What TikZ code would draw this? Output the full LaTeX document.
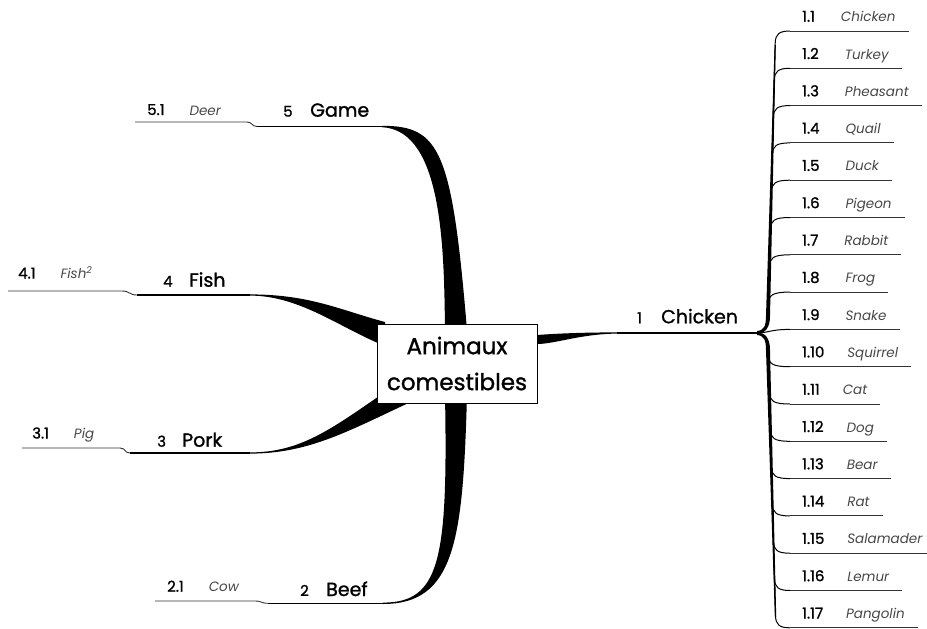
\documentclass[tikz,border=0pt]{standalone}
\usepackage{fontspec}
\setmainfont{Poppins}
\begin{document}
\begin{tikzpicture}[x=1pt,y=-1pt,
  wedge/.style={fill=black,draw=none},
  mainline/.style={line width=1.3pt,black},
  subline/.style={line width=0.9pt,black!80},
  twig/.style={line width=1pt,black},
  mainlbl/.style={inner sep=0pt,anchor=base west,font=\fontsize{19}{22}\selectfont\addfontfeature{FakeBold=1.2}},
  numlbl/.style={inner sep=0pt,anchor=base west,font=\fontsize{15}{17}\selectfont\addfontfeature{FakeBold=1.2}},
  sublbl/.style={inner sep=0pt,anchor=base west,font=\fontsize{15}{16}\selectfont},
  centre/.style={draw=black,line width=1pt,fill=white,minimum width=160pt,minimum height=79pt,
    align=center,inner sep=0pt,font=\fontsize{23}{36}\selectfont\addfontfeature{FakeBold=1.2}}]
\newcommand{\subnum}[1]{{\addfontfeature{FakeBold=1.2}#1}}
\newcommand{\subname}[1]{{\fontsize{13.5}{16}\selectfont\color{black!72}\itshape #1}}
\newcommand{\supx}[1]{\raisebox{5pt}{\fontsize{9.5}{10}\selectfont #1}}
\useasboundingbox (0,0) rectangle (927,629);

% ---------- wedges (drawn before the box, box covers their roots)
% Chicken
\fill[wedge] (520,336) -- (537,335) .. controls (565,333) and (590,332.4) .. (617,332.4)
  -- (617,333.6) .. controls (580,334) and (555,344) .. (537,344) -- (520,345) -- cycle;
% Game
\fill[wedge] (382,125.8) .. controls (440,125.8) and (452,150) .. (467,330)
  -- (445,330) .. controls (444,250) and (443,130) .. (382,127.2) -- cycle;
% Beef
\fill[wedge] (383,602.6) .. controls (440,602.6) and (448,560) .. (445,395)
  -- (467,395) .. controls (463,540) and (455,604) .. (383,604) -- cycle;
% Fish
\fill[wedge] (250,294.4) .. controls (310,294.4) and (340,310) .. (385,322)
  -- (385,346) .. controls (340,328) and (300,295.6) .. (250,295.6) -- cycle;
% Pork
\fill[wedge] (250,452.4) .. controls (300,452.4) and (330,430) .. (385,392)
  -- (415,400) .. controls (350,430) and (310,453.6) .. (250,453.6) -- cycle;

% ---------- centre
\node[centre] (c) at (457,363.5) {Animaux\\comestibles};

% ---------- main branch 1 (Chicken)
\coordinate (j) at (757,333);
\coordinate (b1) at (617,333);
\draw[mainline] (b1) -- (j);
\node[numlbl] (n1) at (637,323.3) {1};
\node[mainlbl] (m1) at (661,323.3) {Chicken};

% ---------- trunk of branch 1
\fill[wedge] (757,331) .. controls (764,330.5) and (766,326) .. (766,316) -- (774.6,45) -- (775.8,45)
  -- (770,316) .. controls (770,328) and (765,333.5) .. (757,333.5) -- cycle;
\fill[wedge] (757,335) .. controls (764,335.5) and (766,340) .. (766,350) -- (774.9,617) -- (776.2,617)
  -- (770,350) .. controls (770,338) and (765,332.5) .. (757,332.5) -- cycle;

% ---------- sub branches of 1 (upper)
\foreach \k/\n/\nm in {1/1.1/Chicken,2/1.2/Turkey,3/1.3/Pheasant,4/1.4/Quail,5/1.5/Duck,
  6/1.6/Pigeon,7/1.7/Rabbit,8/1.8/Frog}{
  \pgfmathsetmacro\yy{31+37.3*(\k-1)}
  \pgfmathsetmacro\ya{\yy+12}
  \pgfmathsetmacro\xt{768+7.15*(316-\ya)/271}
  \node[sublbl] (s\k) at (802,\yy-9.3) {\subnum{\n}\hspace{26pt}\subname{\nm}};
  \coordinate (a\k) at (\xt,\ya);
  \coordinate (c\k) at (790,\yy);
  \path (s\k.base east) ++(13,0) coordinate (t\k);
  \draw[twig] (768,318) -- (a\k) .. controls (\xt+0.3,\yy+3) and (\xt+4,\yy) .. (c\k);
  \draw[subline] (c\k) -- (t\k |- c\k);
}
% 1.9
\node[sublbl] (s9) at (802,320.1) {\subnum{1.9}\hspace{26pt}\subname{Snake}};
\coordinate (c9) at (790,329.4);
\path (s9.base east) ++(13,0) coordinate (t9);
\draw[twig] (j) .. controls (768,333) and (770,329.4) .. (c9);
\draw[subline] (c9) -- (t9 |- c9);
% lower
\foreach \k/\n/\nm in {10/1.10/Squirrel,11/1.11/Cat,12/1.12/Dog,
  13/1.13/Bear,14/1.14/Rat,15/1.15/Salamader,16/1.16/Lemur,17/1.17/Pangolin}{
  \pgfmathsetmacro\yy{31+37.3*(\k-1)}
  \pgfmathsetmacro\ya{\yy-12}
  \pgfmathsetmacro\xt{768+7.5*(\ya-350)/266}
  \node[sublbl] (s\k) at (802,\yy-9.3) {\subnum{\n}\hspace{23pt}\subname{\nm}};
  \coordinate (a\k) at (\xt,\ya);
  \coordinate (c\k) at (790,\yy);
  \path (s\k.base east) ++(13,0) coordinate (t\k);
  \draw[twig] (768,348) -- (a\k) .. controls (\xt+0.3,\yy-3) and (\xt+4,\yy) .. (c\k);
  \draw[subline] (c\k) -- (t\k |- c\k);
}

% ---------- branch 5 (Game)
\coordinate (g0) at (257,126.5);
\coordinate (g1) at (382,126.5);
\coordinate (g2) at (135,122);
\coordinate (g3) at (247,122);
\draw[mainline] (g0) -- (g1);
\draw[subline] (g2) -- (g3) .. controls (252,122) and (252,126.5) .. (g0);
\node[numlbl] (n5) at (283,116.7) {5};
\node[mainlbl] (m5) at (310,116.7) {Game};
\node[sublbl] (s51) at (147,115) {\subnum{5.1}\hspace{25pt}\subname{Deer}};

% ---------- branch 4 (Fish)
\coordinate (f0) at (137,295);
\coordinate (f1) at (250,295);
\coordinate (f2) at (8,291);
\coordinate (f3) at (122,291);
\draw[mainline] (f0) -- (f1);
\draw[subline] (f2) -- (f3) .. controls (130,291) and (129,295) .. (f0);
\node[numlbl] (n4) at (163,286.7) {4};
\node[mainlbl] (m4) at (189,286.7) {Fish};
\node[sublbl] (s41) at (18,278.5) {\subnum{4.1}\hspace{25pt}\subname{Fish\supx{2}}};

% ---------- branch 3 (Pork)
\coordinate (p0) at (130,453);
\coordinate (p1) at (250,453);
\coordinate (p2) at (22,448);
\coordinate (p3) at (120,448);
\draw[mainline] (p0) -- (p1);
\draw[subline] (p2) -- (p3) .. controls (126,448) and (124,453) .. (p0);
\node[numlbl] (n3) at (157,446.7) {3};
\node[mainlbl] (m3) at (182,446.7) {Pork};
\node[sublbl] (s31) at (32,438.5) {\subnum{3.1}\hspace{25pt}\subname{Pig}};

% ---------- branch 2 (Beef)
\coordinate (e0) at (268,603.3);
\coordinate (e1) at (383,603.3);
\coordinate (e2) at (155,601);
\coordinate (e3) at (255,601);
\draw[mainline] (e0) -- (e1);
\draw[subline] (e2) -- (e3) .. controls (262,601) and (261,603.3) .. (e0);
\node[numlbl] (n2) at (300,596) {2};
\node[mainlbl] (m2) at (326,596) {Beef};
\node[sublbl] (s21) at (167,591.7) {\subnum{2.1}\hspace{25pt}\subname{Cow}};
\end{tikzpicture}
\end{document}
